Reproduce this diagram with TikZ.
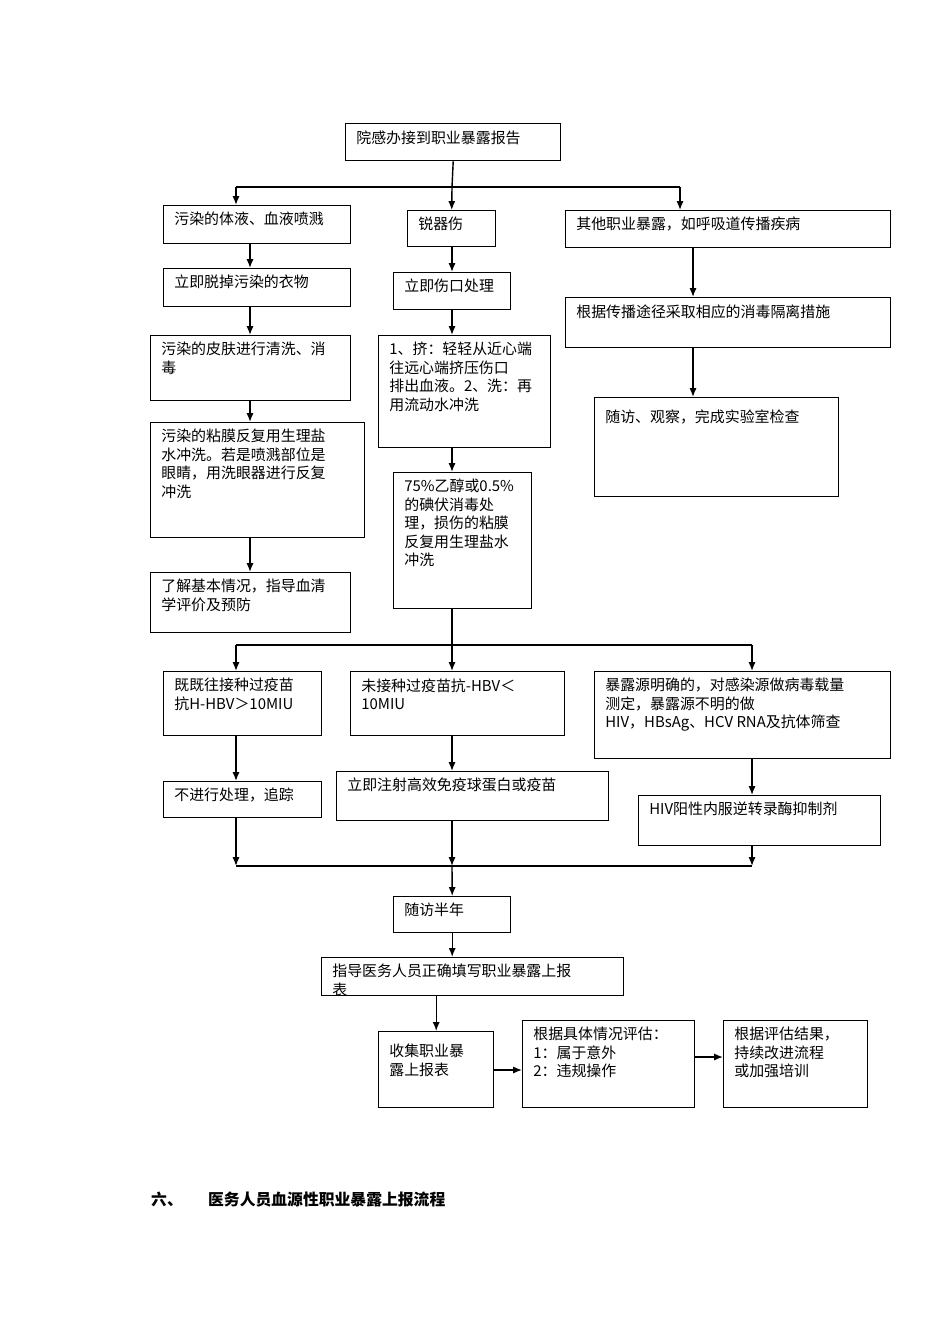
\documentclass[tikz,border=0pt]{standalone}
\usepackage{fontspec}
\setmainfont{Noto Sans CJK SC}
\usetikzlibrary{arrows.meta}
\tikzset{
  box/.style={draw, thick, inner sep=0pt, anchor=north west},
  txt/.style={anchor=north west, align=left, inner xsep=0.22cm, inner ysep=0.14cm,
    font=\fontsize{8.5}{10.5}\selectfont},
  arr/.style={-{Latex[length=5pt,width=4pt]}, thick},
  ln/.style={thick}
}
% box: name, left, top, right, bottom, text
\newcommand\flowbox[6]{%
  \node[box, minimum width={(#4-#2)*0.02cm}, minimum height={(#5-#3)*0.02cm},
    label={[txt]north west:{#6}}] (#1) at (#2,#3) {};}
\begin{document}
\begin{tikzpicture}[x=0.02cm,y=-0.02cm]
\useasboundingbox (0,0) rectangle (950,1344);

% first row
\flowbox{rpt}{345}{123}{560}{160}{院感办接到职业暴露报告}
\flowbox{splash}{163}{205}{350}{243}{污染的体液、血液喷溅}
\flowbox{sharp}{407}{210}{495}{246}{锐器伤}
\flowbox{other}{565}{210}{890}{247}{其他职业暴露，如呼吸道传播疾病}

% left column
\flowbox{cloth}{163}{268}{350}{306}{立即脱掉污染的衣物}
\flowbox{skin}{150}{335}{350}{400}{污染的皮肤进行清洗、消\\毒}
\flowbox{mucosa}{150}{422}{364}{537}{污染的粘膜反复用生理盐\\水冲洗。若是喷溅部位是\\眼睛，用洗眼器进行反复\\冲洗}
\flowbox{eval}{150}{572}{350}{632}{了解基本情况，指导血清\\学评价及预防}

% middle column
\flowbox{wound}{393}{272}{510}{309}{立即伤口处理}
\flowbox{squeeze}{378}{335}{550}{447}{1、挤：轻轻从近心端\\往远心端挤压伤口\\排出血液。2、洗：再\\用流动水冲洗}
\flowbox{disinf}{393}{472}{531}{608}{75\%乙醇或0.5\%\\的碘伏消毒处\\理，损伤的粘膜\\反复用生理盐水\\冲洗}

% right column
\flowbox{isol}{565}{297}{890}{347}{根据传播途径采取相应的消毒隔离措施}
\flowbox{lab}{594}{397}{838}{496}{\\随访、观察，完成实验室检查}

% vaccination row
\flowbox{vacc}{163}{671}{321}{735}{既既往接种过疫苗\\抗H-HBV＞10MIU}
\flowbox{novacc}{350}{671}{564}{735}{未接种过疫苗抗-HBV＜\\10MIU}
\flowbox{source}{594}{671}{890}{758}{暴露源明确的，对感染源做病毒载量\\测定，暴露源不明的做\\HIV，HBsAg、HCV RNA及抗体筛查}
\flowbox{track}{163}{781}{321}{817}{不进行处理，追踪}
\flowbox{inject}{336}{771}{608}{820}{立即注射高效免疫球蛋白或疫苗}
\flowbox{hiv}{638}{795}{880}{845}{HIV阳性内服逆转录酶抑制剂}

% bottom
\flowbox{follow}{393}{896}{510}{932}{随访半年}
\flowbox{guide}{321}{957}{623}{995}{指导医务人员正确填写职业暴露上报\\表}
\flowbox{collect}{378}{1031}{493}{1107}{\\收集职业暴\\露上报表}
\flowbox{assess}{522}{1020}{694}{1107}{根据具体情况评估：\\1：属于意外\\2：违规操作}
\flowbox{improve}{723}{1020}{867}{1107}{根据评估结果，\\持续改进流程\\或加强培训}

% split after report
\coordinate (s1) at (452,187);
\coordinate (s1l) at (236,187);
\coordinate (s1r) at (680,187);
\draw[ln] (rpt.south) -- (s1);
\draw[ln] (s1l) -- (s1r);
\draw[arr] (s1l) -- (s1l |- splash.north);
\draw[arr] (s1) -- (sharp.north);
\draw[arr] (s1r) -- (s1r |- other.north);

% chains
\coordinate (cl) at (250,0);
\draw[arr] (cl |- splash.south) -- (cl |- cloth.north);
\draw[arr] (cl |- cloth.south) -- (cl |- skin.north);
\draw[arr] (cl |- skin.south) -- (cl |- mucosa.north);
\draw[arr] (cl |- mucosa.south) -- (cl |- eval.north);
\coordinate (cm) at (452,0);
\draw[arr] (cm |- sharp.south) -- (cm |- wound.north);
\draw[arr] (cm |- wound.south) -- (cm |- squeeze.north);
\draw[arr] (cm |- squeeze.south) -- (cm |- disinf.north);
\coordinate (cr) at (693,0);
\draw[arr] (cr |- other.south) -- (cr |- isol.north);
\draw[arr] (cr |- isol.south) -- (cr |- lab.north);

% split to vaccination row
\coordinate (s2) at (452,645);
\coordinate (s2l) at (236,645);
\coordinate (s2r) at (752,645);
\draw[ln] (cm |- disinf.south) -- (s2);
\draw[ln] (s2l) -- (s2r);
\draw[arr] (s2l) -- (s2l |- vacc.north);
\draw[arr] (s2) -- (s2 |- novacc.north);
\draw[arr] (s2r) -- (s2r |- source.north);
\draw[arr] (s2l |- vacc.south) -- (s2l |- track.north);
\draw[arr] (s2 |- novacc.south) -- (s2 |- inject.north);
\draw[arr] (s2r |- source.south) -- (s2r |- hiv.north);

% merge
\coordinate (m1) at (452,866);
\coordinate (m1l) at (236,866);
\coordinate (m1r) at (752,866);
\draw[arr] (m1l |- track.south) -- (m1l);
\draw[arr] (m1 |- inject.south) -- (m1);
\draw[arr] (m1r |- hiv.south) -- (m1r);
\draw[ln] (m1l) -- (m1r);
\draw[arr] (m1) -- (follow.north);
\draw[arr] (follow.south) -- (follow.south |- guide.north);
\draw[arr] (guide.south -| collect.north) -- (collect.north);
\draw[arr] (collect.east |- 0,1070) -- (assess.west |- 0,1070);
\draw[arr] (assess.east |- 0,1057) -- (improve.west |- 0,1057);

% caption
\node[anchor=west, font=\fontsize{9}{11}\selectfont\bfseries] (cap) at (145,1200)
  {六、\hspace{1.6em}医务人员血源性职业暴露上报流程};
\end{tikzpicture}
\end{document}
